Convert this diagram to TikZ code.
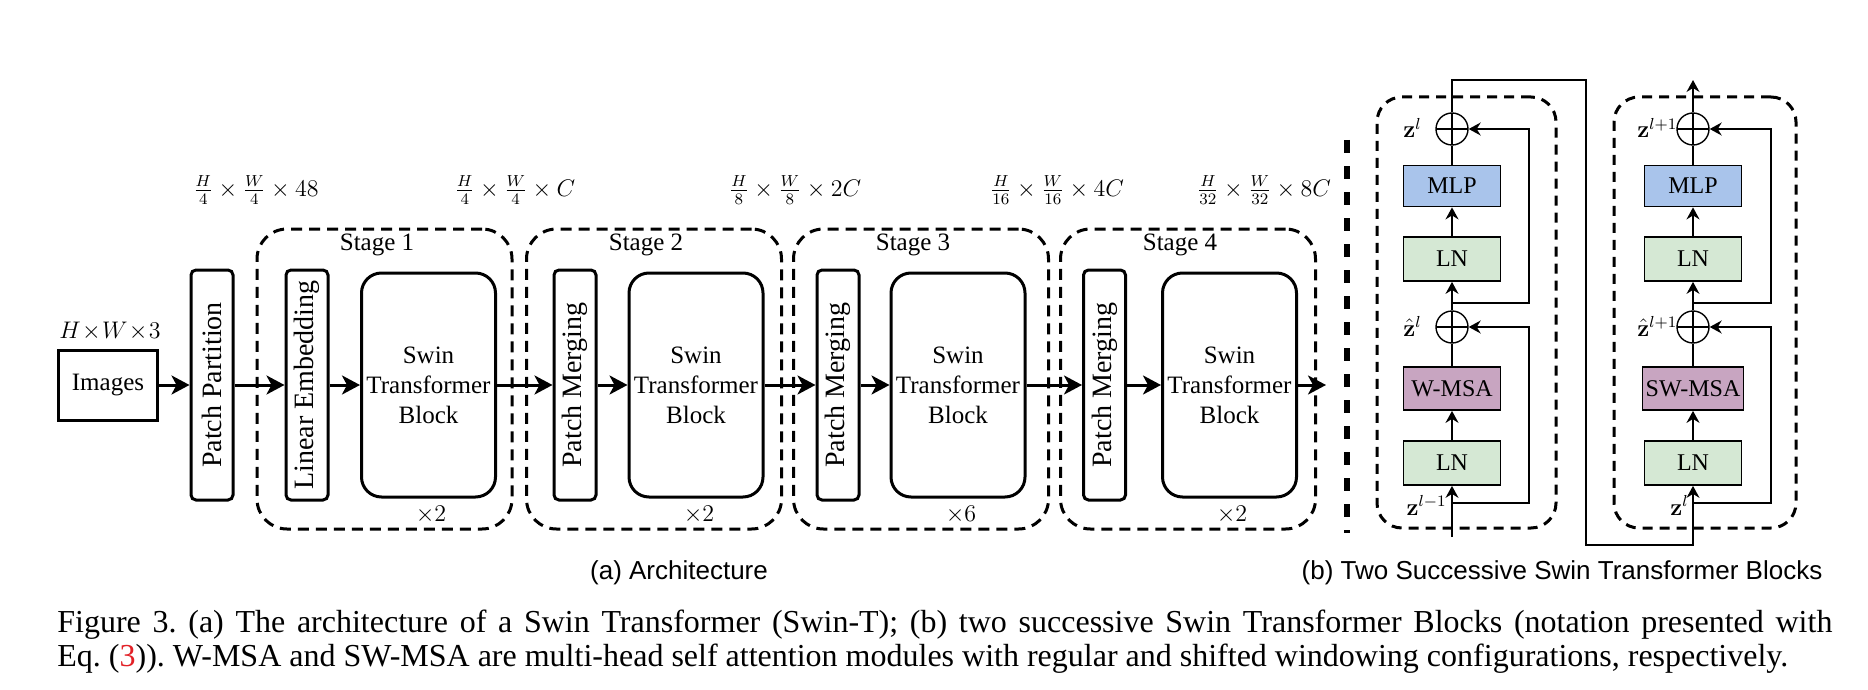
\documentclass[tikz,border=0pt]{standalone}
\usepackage[no-math]{fontspec}
\setmainfont{Liberation Serif}
\newfontfamily\capsans{Liberation Sans}
\usetikzlibrary{arrows.meta,calc}
\definecolor{mlpblue}{RGB}{169,196,235}
\definecolor{lngreen}{RGB}{213,232,212}
\definecolor{msapurple}{RGB}{200,165,193}
\definecolor{linkred}{RGB}{226,32,38}
\frenchspacing
\begin{document}
\begin{tikzpicture}[x=0.5pt,y=-0.5pt,
  stagebox/.style={draw, line width=1.5pt, dash pattern=on 5.5pt off 3.5pt, rounded corners=15pt, minimum width=127.5pt, minimum height=150pt, inner sep=0pt},
  vblock/.style={draw, line width=1.5pt, rounded corners=2.5pt, minimum width=21pt, minimum height=115pt, inner sep=0pt, font=\fontsize{14}{16}\selectfont},
  sbbox/.style={draw, line width=1.5pt, rounded corners=10pt, minimum width=67pt, minimum height=112pt, inner sep=0pt, align=center, font=\fontsize{12.5}{15}\selectfont},
  imgbox/.style={draw, line width=1.5pt, minimum width=49.5pt, minimum height=35pt, inner sep=0pt, font=\fontsize{12.5}{15}\selectfont},
  bigarrow/.style={line width=1.5pt, -{Stealth[length=9pt,width=9.5pt,inset=2.5pt]}},
  mathlbl/.style={inner sep=0pt, font=\fontsize{11.5}{14}\selectfont},
  stagelbl/.style={inner sep=0pt, font=\fontsize{12.5}{14}\selectfont},
  rbox/.style={draw, line width=0.9pt, minimum width=48.5pt, minimum height=21.5pt, inner sep=0pt, font=\fontsize{12}{14}\selectfont},
  plus/.style={circle, draw, line width=0.7pt, minimum size=16pt, inner sep=0pt,
    path picture={\draw[line width=0.7pt] (path picture bounding box.north) -- (path picture bounding box.south) (path picture bounding box.west) -- (path picture bounding box.east);}},
  rdash/.style={draw, line width=1.5pt, dash pattern=on 5pt off 3.5pt, rounded corners=12.5pt, inner sep=0pt, minimum height=215.5pt},
  wire/.style={line width=0.7pt},
  thinarrow/.style={line width=0.7pt, -{Stealth[length=6pt,width=6.5pt,inset=2pt]}},
  midarrow/.style={line width=1pt, -{Stealth[length=6pt,width=6.5pt,inset=2pt]}},
  zlbl/.style={inner sep=0pt, font=\fontsize{12}{14}\selectfont},
  caplbl/.style={inner sep=0pt, font=\capsans\fontsize{13}{15}\selectfont},
  captext/.style={inner sep=0pt, anchor=base west, font=\fontsize{16}{17}\selectfont}
]
\useasboundingbox (0,0) rectangle (1868,690);
\fill[white] (0,0) rectangle (1868,690);

% ---------------- (a) Architecture ----------------
\node[stagebox] (stage1) at (384.5,379) {};
\node[stagebox] (stage2) at (654,379) {};
\node[stagebox] (stage3) at (921,379) {};
\node[stagebox] (stage4) at (1188,379) {};
\node[stagelbl] (st1) at (377,245) {Stage 1};
\node[stagelbl] (st2) at (646,245) {Stage 2};
\node[stagelbl] (st3) at (913,245) {Stage 3};
\node[stagelbl] (st4) at (1180,245) {Stage 4};

\node[imgbox] (img) at (108,385) {Images};
\node[mathlbl, font=\fontsize{12}{14}\selectfont] (dimin) at (110,331) {$H\!\times\! W\!\times\! 3$};
\node[vblock] (pp) at (212,385) {\rotatebox{90}{Patch Partition}};
\node[vblock] (le) at (307,385) {\rotatebox{90}{Linear Embedding}};
\node[sbbox] (sb1) at (428.5,385) {Swin\\Transformer\\Block};
\node[vblock] (pm2) at (575,385) {\rotatebox{90}{Patch Merging}};
\node[sbbox] (sb2) at (696,385) {Swin\\Transformer\\Block};
\node[vblock] (pm3) at (838,385) {\rotatebox{90}{Patch Merging}};
\node[sbbox] (sb3) at (958,385) {Swin\\Transformer\\Block};
\node[vblock] (pm4) at (1104.5,385) {\rotatebox{90}{Patch Merging}};
\node[sbbox] (sb4) at (1229.5,385) {Swin\\Transformer\\Block};
\coordinate (archout) at (1326,385);

\node[mathlbl] (d0) at (256,190) {$\frac{H}{4}\times\frac{W}{4}\times 48$};
\node[mathlbl] (d1) at (515,190) {$\frac{H}{4}\times\frac{W}{4}\times C$};
\node[mathlbl] (d2) at (795,190) {$\frac{H}{8}\times\frac{W}{8}\times 2C$};
\node[mathlbl] (d3) at (1057,190) {$\frac{H}{16}\times\frac{W}{16}\times 4C$};
\node[mathlbl] (d4) at (1264,190) {$\frac{H}{32}\times\frac{W}{32}\times 8C$};

\node[stagelbl] (r1) at (431,515) {$\times 2$};
\node[stagelbl] (r2) at (699,515) {$\times 2$};
\node[stagelbl] (r3) at (961,515) {$\times 6$};
\node[stagelbl] (r4) at (1232,515) {$\times 2$};

\draw[bigarrow] (img.east) -- (pp.west);
\draw[bigarrow] (pp.east) -- (le.west);
\draw[bigarrow] (le.east) -- (sb1.west);
\draw[bigarrow] (sb1.east) -- (pm2.west);
\draw[bigarrow] (pm2.east) -- (sb2.west);
\draw[bigarrow] (sb2.east) -- (pm3.west);
\draw[bigarrow] (pm3.east) -- (sb3.west);
\draw[bigarrow] (sb3.east) -- (pm4.west);
\draw[bigarrow] (pm4.east) -- (sb4.west);
\draw[bigarrow] (sb4.east) -- (archout);

% separator
\draw[line width=2.8pt, dash pattern=on 6.5pt off 6.5pt] (1347,140) -- (1347,533);

% ---------------- (b) Two successive blocks ----------------
\node[rdash, minimum width=89.5pt] (blk1) at (1466.5,312.5) {};
\node[rdash, minimum width=91pt] (blk2) at (1705,312.5) {};

% block 1
\node[plus] (c1a) at (1452,129) {};
\node[rbox, fill=mlpblue, minimum height=20.5pt] (mlp1) at (1452,186) {MLP};
\node[rbox, fill=lngreen, minimum height=22pt] (lnA1) at (1452,259) {LN};
\node[plus] (c1b) at (1452,327) {};
\node[rbox, fill=msapurple] (msa1) at (1452,388.5) {W-MSA};
\node[rbox, fill=lngreen, minimum height=22pt] (lnB1) at (1452,463) {LN};
\coordinate (in1) at (1452,537);
\coordinate (br1b) at (1452,503);
\coordinate (sk1b) at (1529,503);
\coordinate (br1a) at (1452,303);
\coordinate (sk1a) at (1529,303);

\draw[thinarrow] (in1) -- (lnB1.south);
\draw[midarrow] (lnB1.north) -- (msa1.south);
\draw[wire] (msa1.north) -- (c1b.south);
\draw[thinarrow] (c1b.north) -- (lnA1.south);
\draw[midarrow] (lnA1.north) -- (mlp1.south);
\draw[wire] (mlp1.north) -- (c1a.south);
\draw[thinarrow] (br1b) -- (sk1b) |- (c1b.east);
\draw[thinarrow] (br1a) -- (sk1a) |- (c1a.east);

% connection block 1 -> block 2
\coordinate (tA) at (1586,80);
\coordinate (tB) at (1586,545);

% block 2
\node[plus] (c2a) at (1693,129) {};
\node[rbox, fill=mlpblue, minimum height=20.5pt] (mlp2) at (1693,186) {MLP};
\node[rbox, fill=lngreen, minimum height=22pt] (lnA2) at (1693,259) {LN};
\node[plus] (c2b) at (1693,327) {};
\node[rbox, fill=msapurple, minimum width=50.5pt] (msa2) at (1693,388.5) {SW-MSA};
\node[rbox, fill=lngreen, minimum height=22pt] (lnB2) at (1693,463) {LN};
\coordinate (br2b) at (1693,503);
\coordinate (sk2b) at (1771,503);
\coordinate (br2a) at (1693,303);
\coordinate (sk2a) at (1771,303);
\coordinate (out2) at (1693,80);

\draw[thinarrow] (c1a.north) |- (tA) -- (tB) -| (lnB2.south);
\draw[midarrow] (lnB2.north) -- (msa2.south);
\draw[wire] (msa2.north) -- (c2b.south);
\draw[thinarrow] (c2b.north) -- (lnA2.south);
\draw[midarrow] (lnA2.north) -- (mlp2.south);
\draw[wire] (mlp2.north) -- (c2a.south);
\draw[thinarrow] (br2b) -- (sk2b) |- (c2b.east);
\draw[thinarrow] (br2a) -- (sk2a) |- (c2a.east);
\draw[thinarrow] (c2a.north) -- (out2);

% labels
\node[zlbl, anchor=base west] (z1a) at (1403,138) {$\mathbf{z}^{l}$};
\node[zlbl, anchor=base west] (z1b) at (1403,336) {$\hat{\mathbf{z}}^{l}$};
\node[zlbl, anchor=base east] (z1c) at (1447,515) {$\mathbf{z}^{l-1}$};
\node[zlbl, anchor=base west] (z2a) at (1637,138) {$\mathbf{z}^{l+1}$};
\node[zlbl, anchor=base west] (z2b) at (1637,336) {$\hat{\mathbf{z}}^{l+1}$};
\node[zlbl, anchor=base east] (z2c) at (1689,515) {$\mathbf{z}^{l}$};

% sub-captions
\node[caplbl] (capa) at (679,573) {(a) Architecture};
\node[caplbl] (capb) at (1562,573) {(b) Two Successive Swin Transformer Blocks};

% figure caption
\node[captext] (cap1) at (57,632) {\makebox[887.5pt][s]{Figure 3. (a) The architecture of a Swin Transformer (Swin-T); (b) two successive Swin Transformer Blocks (notation presented with}};
\node[captext] (cap2) at (57,666) {Eq. (\textcolor{linkred}{3})). W-MSA and SW-MSA are multi-head self attention modules with regular and shifted windowing configurations, respectively.};
\end{tikzpicture}
\end{document}
